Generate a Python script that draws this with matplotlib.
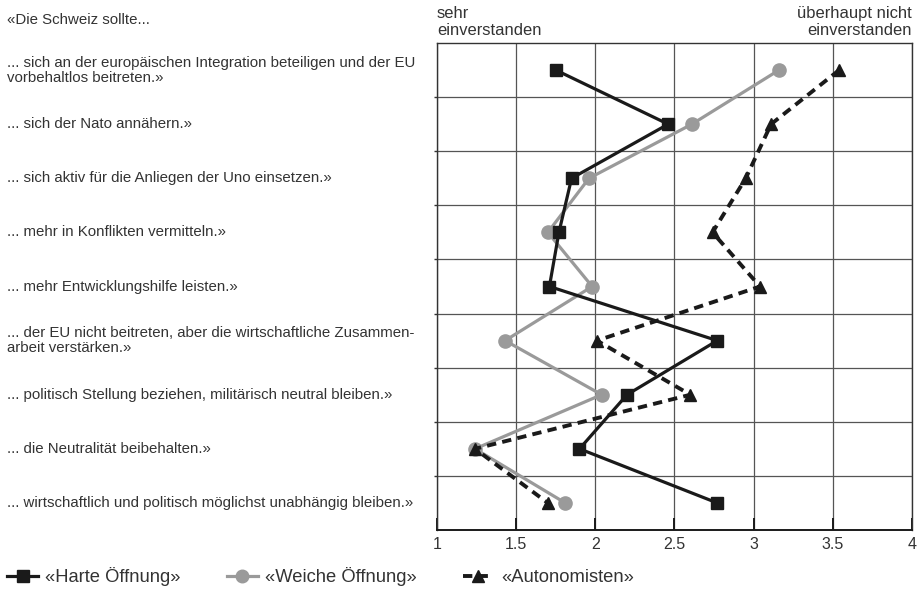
import matplotlib
matplotlib.use("Agg")
import matplotlib.pyplot as plt
import matplotlib.transforms as mtransforms

plt.rcParams['font.family'] = ['Liberation Sans', 'DejaVu Sans']

statements = [
    "... sich an der europäischen Integration beteiligen und der EU\nvorbehaltlos beitreten.»",
    "... sich der Nato annähern.»",
    "... sich aktiv für die Anliegen der Uno einsetzen.»",
    "... mehr in Konflikten vermitteln.»",
    "... mehr Entwicklungshilfe leisten.»",
    "... der EU nicht beitreten, aber die wirtschaftliche Zusammen-\narbeit verstärken.»",
    "... politisch Stellung beziehen, militärisch neutral bleiben.»",
    "... die Neutralität beibehalten.»",
    "... wirtschaftlich und politisch möglichst unabhängig bleiben.»",
]
intro = "«Die Schweiz sollte..."

harte = [1.75, 2.46, 1.85, 1.77, 1.71, 2.77, 2.20, 1.90, 2.77]
weiche = [3.16, 2.61, 1.96, 1.70, 1.98, 1.43, 2.04, 1.24, 1.81]
autonom = [3.54, 3.11, 2.95, 2.74, 3.04, 2.01, 2.60, 1.24, 1.70]

series_labels = ["«Harte Öffnung»", "«Weiche Öffnung»", "«Autonomisten»"]
xticks = [1, 1.5, 2, 2.5, 3, 3.5, 4]
xticklabels = ["1", "1.5", "2", "2.5", "3", "3.5", "4"]

txt = '#333333'
fig = plt.figure(figsize=(9.2, 6.06), dpi=100)
ax = fig.add_axes([437/920, 1-530/606, (912-437)/920, (530-43)/606])

rows = list(range(len(statements)))
ax.set_xlim(1, 4)
ax.set_ylim(len(statements)-0.5, -0.5)

l1, = ax.plot(harte, rows, color='#1a1a1a', lw=2.3, marker='s', ms=8.5, zorder=4)
l2, = ax.plot(weiche, rows, color='#9a9a9a', lw=2.3, marker='o', ms=9.5, zorder=3)
l3, = ax.plot(autonom, rows, color='#1a1a1a', lw=2.8, ls=(0, (2.4, 1.6)), marker='^', ms=9, zorder=5)

ax.set_xticks(xticks)
ax.set_xticklabels(xticklabels)
ax.set_yticks([r + 0.5 for r in rows[:-1]])
ax.set_yticklabels([])
ax.grid(True, axis='both', color='#555555', lw=0.9)
ax.set_axisbelow(True)
ax.tick_params(axis='x', direction='in', length=9, width=1.4, color='#1a1a1a',
               labelsize=11.5, labelcolor=txt, pad=5)
ax.tick_params(axis='y', direction='out', length=2, width=1, color='#333333')
for s in ax.spines.values():
    s.set_color('#333333')
    s.set_linewidth(1)
ax.spines['bottom'].set_color('#1a1a1a')
ax.spines['bottom'].set_linewidth(1.4)

trans = mtransforms.blended_transform_factory(fig.transFigure, ax.transData)
for r, s in zip(rows, statements):
    ax.text(7/920, r, s, transform=trans, ha='left', va='center', fontsize=10.8,
            color=txt, linespacing=1.1, clip_on=False)
fig.text(7/920, 1-20/606, intro, ha='left', va='center', fontsize=10.8, color=txt)

fig.text(437/920, 1-22/606, "sehr\neinverstanden", ha='left', va='center',
         fontsize=11.9, color=txt, linespacing=1.1)
fig.text(912/920, 1-22/606, "überhaupt nicht\neinverstanden", ha='right', va='center',
         fontsize=11.9, color=txt, linespacing=1.1, multialignment='right')

fig.legend([l1, l2, l3], series_labels, loc='center left',
           bbox_to_anchor=(7/920, 1-577/606), ncol=3, frameon=False,
           fontsize=13.2, handlelength=1.7, handletextpad=0.4, columnspacing=2.5,
           borderaxespad=0, borderpad=0, labelcolor=txt, markerscale=0.95)

fig.savefig("out.png", dpi=100)
